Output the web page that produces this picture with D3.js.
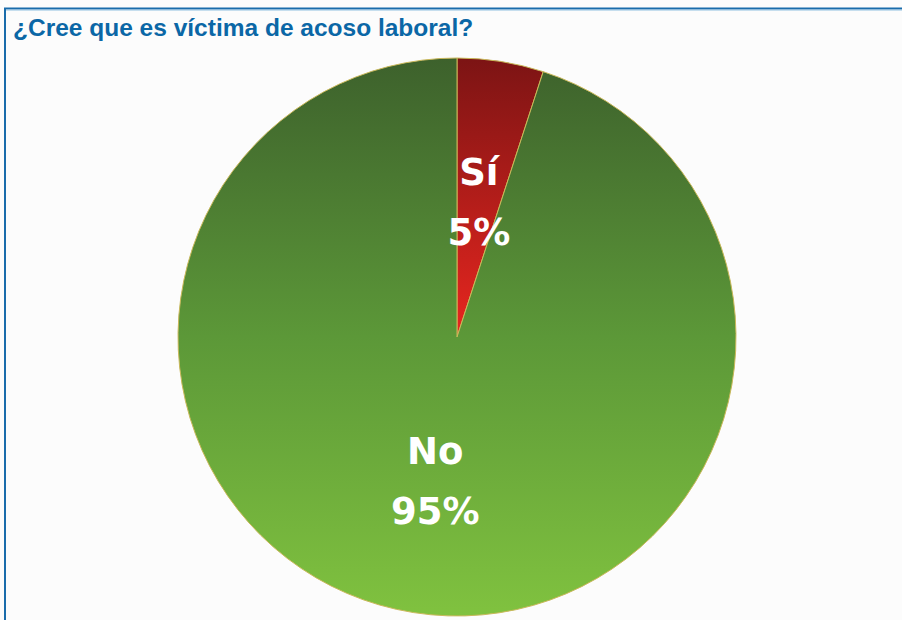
<!DOCTYPE html>
<html>
<head>
<meta charset="utf-8">
<script src="https://cdn.jsdelivr.net/npm/d3@7"></script>
<style>
  html, body { margin: 0; padding: 0; background: #fcfcfc; }
  svg { display: block; }
</style>
</head>
<body>
<svg id="chart" width="902" height="620"></svg>
<script>
// Survey answers and their shares (percent)
const categories = ["Sí", "No"];
const values = [5, 95];
const valueLabels = ["5%", "95%"];
const title = "¿Cree que es víctima de acoso laboral?";

const W = 902, H = 620;
const cx = 457, cy = 337, R = 279;

const svg = d3.select("#chart");

// Panel frame: top and left rules
svg.append("rect").attr("x", 0).attr("y", 0).attr("width", W).attr("height", H).attr("fill", "#fcfcfc");
svg.append("line").attr("x1", 4).attr("x2", W).attr("y1", 8.5).attr("y2", 8.5)
  .attr("stroke", "#1a6cab").attr("stroke-width", 2);
svg.append("line").attr("x1", 4).attr("x2", W).attr("y1", 10).attr("y2", 10)
  .attr("stroke", "#8fbfe0").attr("stroke-width", 1);
svg.append("line").attr("x1", 5).attr("x2", 5).attr("y1", 8).attr("y2", H)
  .attr("stroke", "#1a6cab").attr("stroke-width", 2);

svg.append("text")
  .attr("x", 13).attr("y", 36)
  .attr("font-family", "'Liberation Sans', Arial, sans-serif")
  .attr("font-weight", "bold")
  .attr("font-size", 24.5)
  .attr("fill", "#0b67a6")
  .text(title);

// Vertical gradients for each slice (in the pie group's coordinates)
const defs = svg.append("defs");
const gGreen = defs.append("linearGradient").attr("id", "gNo")
  .attr("gradientUnits", "userSpaceOnUse")
  .attr("x1", 0).attr("x2", 0).attr("y1", -R).attr("y2", R);
gGreen.append("stop").attr("offset", "0%").attr("stop-color", "#3d612c");
gGreen.append("stop").attr("offset", "50%").attr("stop-color", "#5c9838");
gGreen.append("stop").attr("offset", "100%").attr("stop-color", "#80c23f");

const gRed = defs.append("linearGradient").attr("id", "gSi")
  .attr("gradientUnits", "userSpaceOnUse")
  .attr("x1", 0).attr("x2", 0).attr("y1", -R).attr("y2", 0);
gRed.append("stop").attr("offset", "0%").attr("stop-color", "#7c1414");
gRed.append("stop").attr("offset", "100%").attr("stop-color", "#e8261f");

const fills = ["url(#gSi)", "url(#gNo)"];

const pie = d3.pie().sort(null).value(d => d)(values);
const arc = d3.arc().innerRadius(0).outerRadius(R);

const g = svg.append("g").attr("transform", `translate(${cx},${cy})`);

g.selectAll("path.slice")
  .data(pie)
  .join("path")
  .attr("class", "slice")
  .attr("d", arc)
  .attr("fill", (d, i) => fills[i])
  .attr("stroke", "#c9b85a")
  .attr("stroke-width", 1);

// Slice labels: category on top, percentage below
const labels = g.selectAll("g.label")
  .data(pie)
  .join("g")
  .attr("class", "label")
  .attr("transform", (d, i) => {
    const [x, y] = arc.centroid(d);
    return `translate(${x},${y + (i === 1 ? 3 : 0)})`;
  });

labels.append("text")
  .attr("text-anchor", "middle")
  .attr("y", -14)
  .attr("font-family", "'DejaVu Sans', sans-serif")
  .attr("font-weight", "bold")
  .attr("font-size", 37)
  .attr("fill", "#ffffff")
  .text((d, i) => categories[i]);

labels.append("text")
  .attr("text-anchor", "middle")
  .attr("y", 46)
  .attr("font-family", "'DejaVu Sans', sans-serif")
  .attr("font-weight", "bold")
  .attr("font-size", 37)
  .attr("fill", "#ffffff")
  .text((d, i) => valueLabels[i]);
</script>
</body>
</html>
